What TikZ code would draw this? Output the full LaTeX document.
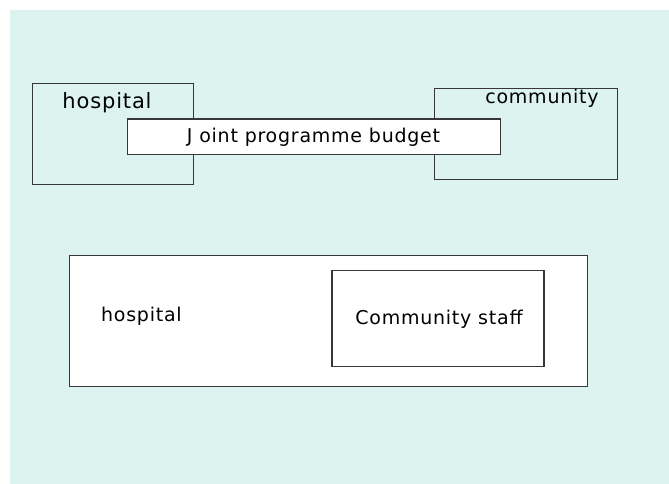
\documentclass[tikz,border=0pt]{standalone}
\usepackage{fontspec}
\setmainfont{DejaVu Sans}
\newfontfamily\lblfont[LetterSpace=4]{DejaVu Sans}
\definecolor{paneback}{RGB}{220,243,239}
\definecolor{edge}{RGB}{55,55,55}
\tikzset{
  frame/.style={draw=edge, line width=1.1pt, rectangle, inner sep=0pt},
  whitebox/.style={frame, fill=white},
  lbl/.style={inner sep=0pt, font=\lblfont\fontsize{19}{21}\selectfont, text=black},
}
\begin{document}
\begin{tikzpicture}[x=1pt, y=-1pt]
  \useasboundingbox (0,0) rectangle (669,484);
  % light panel behind everything
  \fill[paneback] (9.5,10) rectangle (669,484);

  % upper row: two organisations sharing a budget
  \node[frame, minimum width=161pt, minimum height=101pt] (hospbox) at (112.8,134.2) {};
  \node[frame, minimum width=183pt, minimum height=91pt] (commbox) at (525.6,134.2) {};
  \node[whitebox, minimum width=372.5pt, minimum height=35.3pt] (budget) at (313.8,136.7) {};
  \node[lbl, font=\lblfont\fontsize{21}{23}\selectfont] (hosplbl) at (107,102.7) {hospital};
  \node[lbl] (commlbl) at (542,98.7) {community};
  \node[lbl] (budgetlbl) at (313.5,137.5) {J oint programme budget};

  % lower row: community staff inside the hospital
  \node[whitebox, minimum width=518.8pt, minimum height=131.4pt] (hospital2) at (328.5,321) {};
  \node[whitebox, minimum width=212pt, minimum height=95.6pt] (staffbox) at (438,318.5) {};
  \node[lbl] (hosplbl2) at (141.4,316) {hospital};
  \node[lbl] (stafflbl) at (439,319.3) {Community staff};
\end{tikzpicture}
\end{document}
